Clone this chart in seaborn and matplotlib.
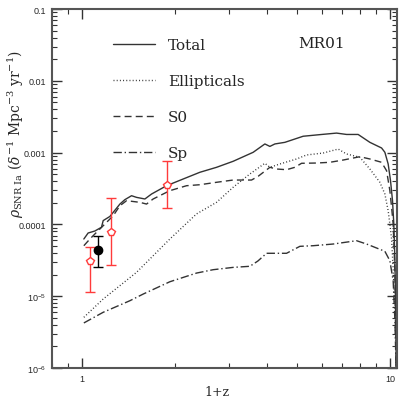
import numpy as np
import pandas as pd
import seaborn as sns
import matplotlib
matplotlib.use('Agg')
import matplotlib.pyplot as plt
from matplotlib.ticker import NullFormatter

# model curves, x = 1+z, y = SN Ia rate
total_x = [1.015, 1.048, 1.102, 1.158, 1.173, 1.233, 1.296, 1.329, 1.379, 1.450,
           1.505, 1.602, 1.684, 1.884, 2.133, 2.416, 2.737, 3.099, 3.599, 3.928,
           4.078, 4.233, 4.561, 5.230, 5.927, 6.713, 7.234, 7.889, 8.612, 9.399,
           9.634, 9.874, 10.05, 10.20, 10.30, 10.38, 10.46, 10.50]
total_y = [6.26e-5, 7.59e-5, 8.09e-5, 9.12e-5, 1.13e-4, 1.29e-4, 1.68e-4, 1.92e-4, 2.21e-4, 2.51e-4,
           2.38e-4, 2.26e-4, 2.65e-4, 3.46e-4, 4.29e-4, 5.32e-4, 6.24e-4, 7.57e-4, 1.01e-3, 1.32e-3,
           1.22e-3, 1.32e-3, 1.39e-3, 1.69e-3, 1.78e-3, 1.87e-3, 1.79e-3, 1.79e-3, 1.39e-3, 1.16e-3,
           1.01e-3, 6.94e-4, 4.06e-4, 2.14e-4, 1.01e-4, 3.30e-5, 4.81e-6, 5e-7]

ell_x = [1.015, 1.173, 1.505, 1.931, 2.357, 2.737, 3.099, 3.512, 3.928, 4.078,
         4.394, 4.979, 5.364, 6.075, 6.795, 7.234, 7.990, 8.612, 9.280, 9.634,
         9.874, 10.0, 10.13, 10.25, 10.38, 10.46, 10.50]
ell_y = [5.08e-6, 9.14e-6, 2.15e-5, 6.26e-5, 1.40e-4, 2.03e-4, 3.29e-4, 5.04e-4, 7.10e-4, 6.24e-4,
         6.94e-4, 8.15e-4, 9.27e-4, 9.87e-4, 1.12e-3, 9.57e-4, 8.61e-4, 5.91e-4, 3.86e-4, 2.65e-4,
         1.55e-4, 1.01e-4, 6.26e-5, 2.39e-5, 6.64e-6, 1.84e-6, 5e-7]

s0_x = [1.015, 1.062, 1.116, 1.173, 1.264, 1.329, 1.397, 1.543, 1.622, 1.704,
        1.931, 2.188, 2.416, 2.737, 3.099, 3.556, 3.736, 4.078, 4.288, 4.619,
        4.916, 5.168, 5.781, 6.387, 7.053, 7.990, 8.612, 9.399, 9.757, 10.0,
        10.13, 10.25, 10.38, 10.46, 10.50]
s0_y = [5.05e-5, 6.26e-5, 7.76e-5, 9.59e-5, 1.32e-4, 1.82e-4, 2.14e-4, 2.03e-4, 1.92e-4, 2.26e-4,
        2.95e-4, 3.46e-4, 3.57e-4, 3.86e-4, 4.15e-4, 4.15e-4, 4.68e-4, 6.24e-4, 5.91e-4, 5.78e-4,
        6.24e-4, 7.10e-4, 7.16e-4, 7.33e-4, 7.88e-4, 8.77e-4, 8.15e-4, 7.33e-4, 5.60e-4, 2.95e-4,
        1.73e-4, 1.01e-4, 2.39e-5, 3.49e-6, 5e-7]

sp_x = [1.015, 1.173, 1.432, 1.581, 1.931, 2.357, 2.669, 3.099, 3.512, 3.728,
        3.978, 4.233, 4.619, 5.103, 5.636, 6.546, 7.795, 8.402, 9.634, 10.0,
        10.25, 10.38, 10.46, 10.50]
sp_y = [4.24e-6, 5.97e-6, 8.65e-6, 1.07e-5, 1.59e-5, 2.10e-5, 2.34e-5, 2.52e-5, 2.61e-5, 3.09e-5,
        3.96e-5, 3.96e-5, 3.96e-5, 4.95e-5, 5.05e-5, 5.33e-5, 5.93e-5, 5.33e-5, 4.22e-5, 3.12e-5,
        1.64e-5, 4.81e-6, 1.33e-6, 5e-7]

# observed rates (red pentagons) and the black point
obs_x = [1.06, 1.245, 1.89]
obs_y = [3.1e-5, 7.8e-5, 3.54e-4]
obs_lo = [1.15e-5, 2.7e-5, 1.71e-4]
obs_hi = [4.84e-5, 2.31e-4, 7.57e-4]

blk_x = [1.13]
blk_y = [4.4e-5]
blk_lo = [2.58e-5]
blk_hi = [6.97e-5]

ytick_vals = [1e-6, 1e-5, 1e-4, 1e-3, 1e-2, 1e-1]
ytick_labels = [r'$\mathregular{10^{-6}}$', r'$\mathregular{10^{-5}}$', '0.0001', '0.001', '0.01', '0.1']
xtick_vals = [1, 10]
xtick_labels = ['1', '10']

sns.set_style('ticks')
plt.rcParams['font.family'] = ['DejaVu Serif']
plt.rcParams['mathtext.fontset'] = 'dejavuserif'

fig = plt.figure(figsize=(4.14, 4.14), dpi=100)
ax = fig.add_axes([0.1256, 0.1087, 0.959 - 0.1256, 0.9758 - 0.1087])

lc = '#333333'
curves = [
    ('Total', total_x, total_y, '-'),
    ('Ellipticals', ell_x, ell_y, (0, (0.7, 1.6))),
    ('S0', s0_x, s0_y, (0, (5, 3))),
    ('Sp', sp_x, sp_y, (0, (6, 2, 1, 2))),
]
for name, xs, ys, ls in curves:
    df = pd.DataFrame({'x': xs, 'y': ys})
    sns.lineplot(data=df, x='x', y='y', ax=ax, color=lc, lw=1.0,
                 linestyle=ls, label=name, sort=False, estimator=None)

red = '#ff3b3b'
obs_x_arr = np.array(obs_x)
obs_y_arr = np.array(obs_y)
ax.errorbar(obs_x_arr, obs_y_arr,
            yerr=[obs_y_arr - np.array(obs_lo), np.array(obs_hi) - obs_y_arr],
            fmt='p', mfc='white', mec=red, ecolor=red, ms=6, mew=1.0,
            elinewidth=1.0, capsize=3.5, capthick=1.0, zorder=5)
blk_y_arr = np.array(blk_y)
ax.errorbar(blk_x, blk_y_arr,
            yerr=[blk_y_arr - np.array(blk_lo), np.array(blk_hi) - blk_y_arr],
            fmt='o', color='black', ms=6, elinewidth=1.0,
            capsize=3.5, capthick=1.0, zorder=5)

ax.set_xscale('log')
ax.set_yscale('log')
ax.set_xlim(0.8, 10.55)
ax.set_ylim(1e-6, 0.1)

ax.set_yticks(ytick_vals)
ax.set_yticklabels(ytick_labels, family='Liberation Sans', fontsize=6.5)
ax.set_xticks(xtick_vals)
ax.set_xticklabels(xtick_labels, family='Liberation Sans', fontsize=6.5)
ax.xaxis.set_minor_formatter(NullFormatter())
ax.yaxis.set_minor_formatter(NullFormatter())

ax.tick_params(which='both', direction='in', top=True, right=True, color='#333333')
ax.tick_params(which='major', length=7, width=1.0, pad=4)
ax.tick_params(which='minor', length=3.5, width=0.8)
for sp in ax.spines.values():
    sp.set_linewidth(1.5)
    sp.set_color('#555555')

ax.set_xlabel('1+z', fontsize=9)
ax.set_ylabel(r'$\rho_{\rm SNR\ Ia}$ ($\delta^{-1}$ Mpc$^{-3}$ yr$^{-1}$)', fontsize=10)
ax.xaxis.set_label_coords(0.478, -0.047)
ax.yaxis.set_label_coords(-0.075, 0.655)

leg = ax.legend(loc='upper left', bbox_to_anchor=(0.176, 0.919), frameon=False,
                fontsize=11, handlelength=2.77, handletextpad=0.85,
                labelspacing=1.44, borderpad=0, borderaxespad=0)
ax.text(0.713, 0.905, 'MR01', transform=ax.transAxes, fontsize=11,
        va='center', ha='left', color='#222222')

fig.savefig('out.png', dpi=100)
